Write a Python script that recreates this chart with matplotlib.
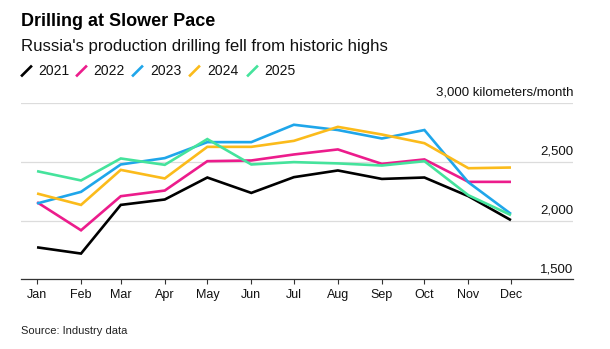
import matplotlib
matplotlib.use("Agg")
import matplotlib.pyplot as plt
from matplotlib.lines import Line2D
import pandas as pd

plt.rcParams['font.family'] = ['Liberation Sans', 'DejaVu Sans']

months = ["Jan", "Feb", "Mar", "Apr", "May", "Jun", "Jul", "Aug", "Sep", "Oct", "Nov", "Dec"]
years = ["2021", "2022", "2023", "2024", "2025"]
v2021 = [1772, 1719, 2133, 2179, 2366, 2235, 2369, 2426, 2354, 2366, 2207, 2003]
v2022 = [2156, 1917, 2207, 2255, 2505, 2511, 2562, 2605, 2482, 2520, 2329, 2329]
v2023 = [2145, 2244, 2477, 2531, 2667, 2667, 2815, 2770, 2698, 2770, 2325, 2056]
v2024 = [2230, 2133, 2431, 2358, 2627, 2627, 2678, 2797, 2732, 2658, 2445, 2451]
v2025 = [2420, 2341, 2528, 2474, 2693, 2477, 2497, 2486, 2468, 2505, 2215, 2046]
yticks = [1500, 2000, 2500, 3000]
unit = "kilometers/month"

series = [v2021, v2022, v2023, v2024, v2025]
colors = ["#000000", "#ec1c8c", "#1fa6ea", "#fbbb1b", "#45e39c"]

dates = pd.date_range("2021-01-01", periods=12, freq="MS")

fig = plt.figure(figsize=(6.1, 3.49), dpi=100)
W, H = 610, 349
ax = fig.add_axes([21 / W, 1 - 279.3 / H, (573 - 21) / W, (279.3 - 103) / H])

for vals, c in zip(series, colors):
    ax.plot(dates, vals, color=c, lw=1.9, solid_capstyle='butt', solid_joinstyle='miter', clip_on=False, zorder=3)

x0 = dates[0] - pd.Timedelta(days=11.3)
x1 = dates[0] + pd.Timedelta(days=377.7)
ax.set_xlim(x0, x1)
ax.set_ylim(1500, 3000)

ax.set_yticks(yticks)
ax.yaxis.grid(True, color="#dcdcdc", lw=0.9)
ax.set_axisbelow(True)
ax.tick_params(axis='y', length=0, labelleft=False)
for s in ["top", "right", "left"]:
    ax.spines[s].set_visible(False)
ax.spines["bottom"].set_color("#333333")
ax.spines["bottom"].set_linewidth(0.9)

ax.set_xticks(dates)
ax.set_xticklabels(months)
ax.tick_params(axis='x', length=3.6, width=0.8, color="#333333", labelsize=9, pad=3.5, labelcolor="#111111")

# y labels above gridlines, right aligned
for t in yticks:
    lab = f"{t:,}" + (f" {unit}" if t == 3000 else "")
    ax.annotate(lab, xy=(1, t), xycoords=('axes fraction', 'data'), xytext=(0, 3),
                textcoords='offset points', ha='right', va='bottom', fontsize=9.5, color="#111111")

fig.text(21 / W, 1 - 22 / H, "Drilling at Slower Pace", fontsize=13, fontweight='bold', va='center', ha='left')
fig.text(21 / W, 1 - 46.5 / H, "Russia's production drilling fell from historic highs", fontsize=12.1, va='center', ha='left', color="#111111")

# legend
slash_x = [22, 77, 133, 190, 248]
text_x = [38, 93, 150, 207, 264]
ly = 1 - 71 / H
for sx, tx, c, y in zip(slash_x, text_x, colors, years):
    fig.add_artist(Line2D([sx / W, (sx + 9) / W], [ly - 4.5 / H, ly + 4.5 / H], color=c, lw=1.9, transform=fig.transFigure))
    fig.text(tx / W, ly, y, fontsize=10, va='center', ha='left', color="#111111")

fig.text(21 / W, 1 - 331.5 / H, "Source: Industry data", fontsize=8, va='center', ha='left', color="#222222")

fig.savefig("out.png", dpi=100)
